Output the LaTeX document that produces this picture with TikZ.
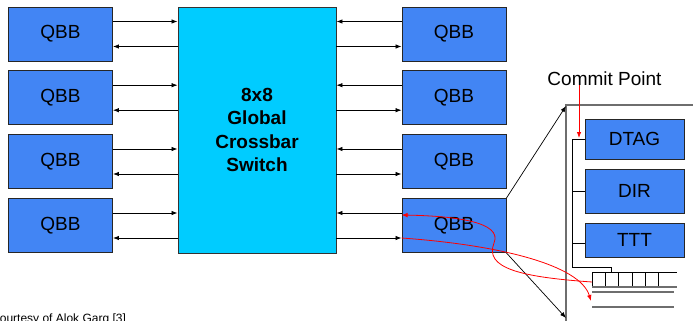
\documentclass[tikz,border=0pt]{standalone}
\usepackage{fontspec}
\setmainfont{Liberation Sans}
\usetikzlibrary{arrows.meta}
\definecolor{qbbblue}{RGB}{66,133,244}
\definecolor{xbarcyan}{RGB}{0,204,255}
\definecolor{framegray}{RGB}{110,110,110}
\tikzset{
  qbb/.style={draw=black!85, line width=0.9pt, fill=qbbblue, minimum width=104pt,
              minimum height=54pt, inner sep=0pt, font=\fontsize{19}{22}\selectfont},
  unit/.style={draw=black!85, line width=0.9pt, fill=qbbblue, minimum width=99pt,
               inner sep=0pt, font=\fontsize{19}{22}\selectfont},
  link/.style={line width=0.8pt, -{Latex[length=6pt,width=4.5pt]}},
  redlink/.style={red, line width=0.8pt, -{Latex[length=6pt,width=4.5pt]}},
  bus/.style={line width=1pt},
  grayline/.style={framegray, line width=1.2pt},
}
\begin{document}
\begin{tikzpicture}[x=1pt,y=-1pt]
\path[use as bounding box] (0,0) rectangle (693,321);
\clip (0,0) rectangle (693,321);
\fill[white] (0,0) rectangle (693,321);

% crossbar switch
\node[draw=black!80, line width=0.9pt, fill=xbarcyan, minimum width=158pt, minimum height=246pt,
      inner sep=0pt, align=center, font=\fontsize{19}{23.5}\selectfont\bfseries]
  (xbar) at (257,130) {8x8\\Global\\Crossbar\\Switch};

% quad building blocks on both sides
\foreach \i/\yc in {1/34,2/97.7,3/161.5,4/225.5} {
  \node[qbb] (lq\i) at (60.5,\yc) {QBB};
  \node[qbb] (rq\i) at (454,\yc) {QBB};
  \draw[link] ([yshift=12.5pt]lq\i.east) -- ([yshift=12.5pt]lq\i.east -| xbar.west);
  \draw[link] ([yshift=-12.5pt]lq\i.east -| xbar.west) -- ([yshift=-12.5pt]lq\i.east);
  \draw[link] ([yshift=12.5pt]rq\i.west) -- ([yshift=12.5pt]rq\i.west -| xbar.east);
  \draw[link] ([yshift=-12.5pt]rq\i.west -| xbar.east) -- ([yshift=-12.5pt]rq\i.west);
}

% detail view of one QBB
\coordinate (ftop) at (566,105);
\coordinate (fbot) at (566,321);
\coordinate (fright) at (693,105);
\draw[grayline] (fbot) -- (ftop) -- (fright);
\draw[line width=0.7pt, -{Latex[length=6pt,width=4.5pt]}] (rq4.north east) -- (566,106);
\draw[line width=0.7pt, -{Latex[length=6pt,width=4.5pt]}] (rq4.south east) -- (566,318);

\node[unit, minimum height=40pt] (dtag) at (634.5,139) {DTAG};
\node[unit, minimum height=44pt] (dir) at (634.5,191) {DIR};
\node[unit, minimum height=34pt] (ttt) at (634.5,240) {TTT};

% internal bus and queue
\coordinate (bustop) at (572,139);
\coordinate (busbot) at (572,267);
\coordinate (qtap) at (611,267);
\draw[bus] (dtag.west) -- (bustop) -- (busbot) -- (qtap) -- (611,272);
\draw[bus] (dir.west) -- (dir.west -| bustop);
\draw[bus] ([yshift=-3pt]ttt.west) -- ([yshift=-3pt]ttt.west -| bustop);

\draw[line width=0.8pt] (592,272) -- (677,272);
\foreach \x in {592,605,618,632,645,658} \draw[line width=0.8pt] (\x,272) -- (\x,287);
\draw[grayline] (592,287) -- (677,287);
\draw[grayline] (592,292) -- (674,292);
\draw[grayline] (592,307) -- (674,307);

% commit point
\node[font=\fontsize{19}{22}\selectfont] (commit) at (604.5,79) {Commit Point};
\coordinate (cpin) at (579,85);
\draw[redlink] (cpin) -- (579,138);

% request / response flow
\coordinate (qout) at (592,282);
\coordinate (qin) at (591,301);
\draw[redlink] (qout) .. controls (520,277) and (484,268) .. (494,243)
  .. controls (503,222) and (455,216) .. ([yshift=10.5pt]rq4.west);
\draw[redlink] ([yshift=-12.5pt]rq4.west) .. controls (500,245) and (580,265) .. (qin);

% credit line
\node[anchor=base west, inner sep=0pt, font=\fontsize{12}{14}\selectfont] (credit) at (-9,322)
  {Courtesy of Alok Garg [3]};
\end{tikzpicture}
\end{document}
